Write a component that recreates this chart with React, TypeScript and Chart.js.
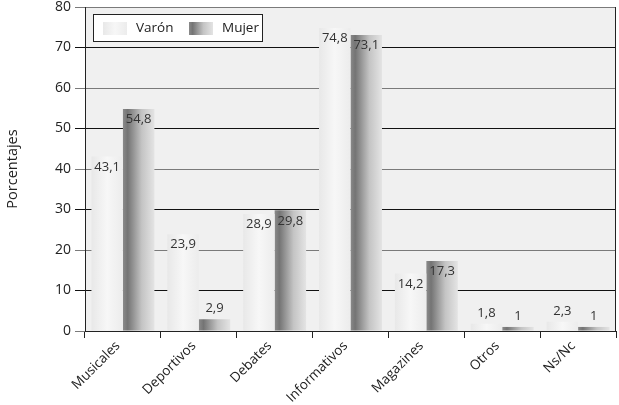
import React, { useEffect, useRef } from "react";
import { Chart, registerables } from "chart.js";

Chart.register(...registerables);

const categories = ["Musicales", "Deportivos", "Debates", "Informativos", "Magazines", "Otros", "Ns/Nc"];
const varon = [43.1, 23.9, 28.9, 74.8, 14.2, 1.8, 2.3];
const mujer = [54.8, 2.9, 29.8, 73.1, 17.3, 1, 1];
const seriesNames = ["Varón", "Mujer"];
const yTitle = "Porcentajes";

const FONT = "'Open Sans', sans-serif";

function varonGrad(ctx: CanvasRenderingContext2D, x0: number, x1: number) {
  const g = ctx.createLinearGradient(x0, 0, x1, 0);
  g.addColorStop(0, "#e8e8e8");
  g.addColorStop(0.5, "#f7f7f7");
  g.addColorStop(1, "#ececec");
  return g;
}
function mujerGrad(ctx: CanvasRenderingContext2D, x0: number, x1: number) {
  const g = ctx.createLinearGradient(x0, 0, x1, 0);
  g.addColorStop(0, "#8a8a8a");
  g.addColorStop(0.15, "#747474");
  g.addColorStop(0.6, "#c4c4c4");
  g.addColorStop(1, "#e4e4e4");
  return g;
}

const fmt = (v: number) => String(v).replace(".", ",");

const customPlugin = {
  id: "custom",
  beforeDraw(chart: any) {
    const { ctx, chartArea } = chart;
    ctx.save();
    ctx.fillStyle = "#f0f0f0";
    ctx.fillRect(chartArea.left, chartArea.top, chartArea.right - chartArea.left, chartArea.bottom - chartArea.top);
    ctx.restore();
  },
  beforeDatasetsDraw(chart: any) {
    const ctx = chart.ctx;
    chart.data.datasets.forEach((ds: any, di: number) => {
      const meta = chart.getDatasetMeta(di);
      meta.data.forEach((bar: any) => {
        const x0 = bar.x - bar.width / 2;
        const x1 = bar.x + bar.width / 2;
        const bg = di === 0 ? varonGrad(ctx, x0, x1) : mujerGrad(ctx, x0, x1);
        bar.options = Object.assign(Object.create(Object.getPrototypeOf(bar.options)), bar.options, { backgroundColor: bg });
      });
    });
  },
  afterDatasetsDraw(chart: any) {
    const { ctx, chartArea } = chart;
    ctx.save();
    // right border
    ctx.strokeStyle = "#222";
    ctx.lineWidth = 1;
    const rx = Math.round(chartArea.right) - 0.5;
    ctx.beginPath();
    ctx.moveTo(rx, chartArea.top);
    ctx.lineTo(rx, chartArea.bottom);
    ctx.stroke();
    // value labels
    ctx.font = `13px ${FONT}`;
    ctx.fillStyle = "#333";
    ctx.textAlign = "center";
    chart.data.datasets.forEach((ds: any, di: number) => {
      const meta = chart.getDatasetMeta(di);
      meta.data.forEach((bar: any, i: number) => {
        const v = ds.data[i];
        if (v >= 5) {
          ctx.textBaseline = "top";
          ctx.fillText(fmt(v), bar.x, bar.y + 4);
        } else {
          ctx.textBaseline = "bottom";
          ctx.fillText(fmt(v), bar.x, bar.y - 4);
        }
      });
    });
    // legend
    const lx = 93;
    const ly = 14;
    const lw = 169;
    const lh = 27;
    ctx.fillStyle = "#ffffff";
    ctx.fillRect(lx, ly, lw, lh);
    ctx.strokeStyle = "#222";
    ctx.strokeRect(lx + 0.5, ly + 0.5, lw, lh);
    const items = [
      { x: lx + 10, name: chart.data.datasets[0].label, grad: varonGrad },
      { x: lx + 96, name: chart.data.datasets[1].label, grad: mujerGrad },
    ];
    items.forEach((it) => {
      ctx.fillStyle = it.grad(ctx, it.x, it.x + 24);
      ctx.fillRect(it.x, ly + 8, 24, 13);
      ctx.fillStyle = "#222";
      ctx.font = `13.5px ${FONT}`;
      ctx.textAlign = "left";
      ctx.textBaseline = "middle";
      ctx.fillText(it.name, it.x + 33, ly + 14.5);
    });
    ctx.restore();
  },
};

export default function App() {
  const ref = useRef<HTMLCanvasElement | null>(null);
  useEffect(() => {
    if (!ref.current) return;
    const chart = new Chart(ref.current, {
      type: "bar",
      data: {
        labels: categories,
        datasets: [
          { label: seriesNames[0], data: varon, backgroundColor: "#f0f0f0", borderWidth: 0 },
          { label: seriesNames[1], data: mujer, backgroundColor: "#999", borderWidth: 0 },
        ],
      },
      options: {
        animation: false,
        responsive: false,
        maintainAspectRatio: false,
        layout: { padding: { left: 4, top: 0, right: 3, bottom: 0 } },
        datasets: { bar: { categoryPercentage: 0.83, barPercentage: 1 } },
        plugins: { legend: { display: false }, tooltip: { enabled: false } },
        scales: {
          x: {
            grid: {
              offset: true,
              drawOnChartArea: false,
              drawTicks: true,
              tickLength: 7,
              color: "#222",
            },
            border: { display: true, color: "#222" },
            ticks: {
              maxRotation: 45,
              minRotation: 45,
              color: "#222",
              font: { family: FONT, size: 13.5 },
              padding: 0,
              labelOffset: -5,
            },
            afterFit(scale: any) {
              scale.height = 74;
            },
          },
          y: {
            min: 0,
            max: 80,
            ticks: {
              stepSize: 10,
              color: "#222",
              font: { family: FONT, size: 14, lineHeight: 1 },
              padding: 4,
            },
            grid: {
              color: (c: any) => (c.tick && c.tick.value % 20 === 10 ? "#111" : "#7a7a7a"),
              tickLength: 10,
              lineWidth: 1,
            },
            border: { display: true, color: "#222" },
            title: {
              display: true,
              text: yTitle,
              color: "#222",
              font: { family: FONT, size: 14.5 },
              padding: { top: 0, bottom: 0 },
            },
            afterFit(scale: any) {
              scale.width = 81;
              scale.paddingTop = 7;
            },
          },
        },
      },
      plugins: [customPlugin],
    });
    return () => chart.destroy();
  }, []);
  return (
    <div style={{ position: "fixed", left: 0, top: 0, width: 619, height: 405, background: "#fff" }}>
      <canvas ref={ref} width={619} height={405} style={{ width: 619, height: 405 }} />
    </div>
  );
}
